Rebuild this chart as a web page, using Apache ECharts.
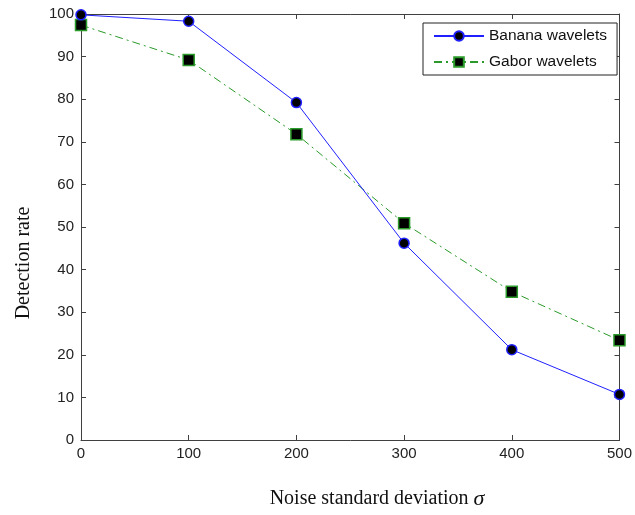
<!DOCTYPE html>
<html>
<head>
<meta charset="utf-8">
<script src="https://cdn.jsdelivr.net/npm/echarts@6/dist/echarts.min.js"></script>
<style>
html, body { margin: 0; padding: 0; background: #fff; }
#chart { width: 635px; height: 515px; }
</style>
</head>
<body>
<div id="chart"></div>
<script>
var noiseLevels = [0, 100, 200, 300, 400, 500];
var bananaRate = [99.8, 98.3, 79.2, 46.2, 21.2, 10.7];
var gaborRate = [97.4, 89.2, 71.8, 50.9, 34.8, 23.4];
var xTicks = [0, 100, 200, 300, 400, 500];
var yTicks = [0, 10, 20, 30, 40, 50, 60, 70, 80, 90, 100];

function pairs(xs, ys) {
	var out = [];
	for (var i = 0; i < xs.length; i++) out.push([xs[i], ys[i]]);
	return out;
}

var chart = echarts.init(document.getElementById('chart'));
var axisColor = '#404040';
var tickFont = { color: '#222', fontFamily: 'Liberation Sans', fontSize: 15 };

var option = {
	animation: false,
	backgroundColor: '#fff',
	grid: { left: 81, right: 12, top: 14, bottom: 75 },
	legend: {
		left: 423,
		top: 23,
		orient: 'vertical',
		backgroundColor: '#fff',
		borderColor: '#222',
		borderWidth: 1,
		borderRadius: 0,
		padding: [5, 10, 5, 10],
		itemWidth: 50,
		itemHeight: 12,
		itemGap: 10,
		textStyle: { color: '#111', fontFamily: 'Liberation Sans', fontSize: 15.5 },
		data: ['Banana wavelets', 'Gabor wavelets']
	},
	xAxis: [{
		type: 'value',
		min: xTicks[0],
		max: xTicks[xTicks.length - 1],
		interval: 100,
		axisLine: { onZero: false, lineStyle: { color: axisColor, width: 1 } },
		axisTick: { inside: true, length: 5, lineStyle: { color: axisColor } },
		axisLabel: Object.assign({ margin: 6 }, tickFont),
		splitLine: { show: false }
	}, {
		type: 'value',
		position: 'top',
		min: xTicks[0],
		max: xTicks[xTicks.length - 1],
		interval: 100,
		axisLine: { onZero: false, lineStyle: { color: axisColor, width: 1 } },
		axisTick: { inside: true, length: 5, lineStyle: { color: axisColor } },
		axisLabel: { show: false },
		splitLine: { show: false }
	}],
	yAxis: [{
		type: 'value',
		min: yTicks[0],
		max: yTicks[yTicks.length - 1],
		interval: 10,
		axisLine: { show: true, onZero: false, lineStyle: { color: axisColor, width: 1 } },
		axisTick: { show: true, inside: true, length: 5, lineStyle: { color: axisColor } },
		axisLabel: Object.assign({ margin: 7 }, tickFont),
		splitLine: { show: false }
	}, {
		type: 'value',
		position: 'right',
		min: yTicks[0],
		max: yTicks[yTicks.length - 1],
		interval: 10,
		axisLine: { show: true, onZero: false, lineStyle: { color: axisColor, width: 1 } },
		axisTick: { show: true, inside: true, length: 5, lineStyle: { color: axisColor } },
		axisLabel: { show: false },
		splitLine: { show: false }
	}],
	graphic: [{
		type: 'text',
		x: 377,
		y: 499,
		style: {
			text: '{n|Noise standard deviation }{s|σ}',
			align: 'center',
			verticalAlign: 'middle',
			rich: {
				n: { fontFamily: 'Liberation Serif', fontSize: 20, fill: '#111' },
				s: { fontFamily: 'Liberation Serif', fontStyle: 'italic', fontSize: 22, fill: '#111' }
			}
		}
	}, {
		type: 'text',
		x: 24,
		y: 263,
		rotation: Math.PI / 2,
		style: {
			text: 'Detection rate',
			align: 'center',
			verticalAlign: 'middle',
			fontFamily: 'Liberation Serif',
			fontSize: 20,
			fill: '#111'
		}
	}],
	series: [{
		name: 'Banana wavelets',
		type: 'line',
		data: pairs(noiseLevels, bananaRate),
		symbol: 'circle',
		symbolSize: 10,
		lineStyle: { color: '#2020ff', width: 1 },
		itemStyle: { color: '#000', borderColor: '#2020ff', borderWidth: 1.5 },
		emphasis: { disabled: true },
		z: 3
	}, {
		name: 'Gabor wavelets',
		type: 'line',
		data: pairs(noiseLevels, gaborRate),
		symbol: 'rect',
		symbolSize: 11,
		lineStyle: { color: '#2a9a2a', width: 1, type: [8, 4, 2, 4] },
		itemStyle: { color: '#000', borderColor: '#2a9a2a', borderWidth: 1.5 },
		emphasis: { disabled: true },
		z: 2
	}]
};

chart.setOption(option);
</script>
</body>
</html>
